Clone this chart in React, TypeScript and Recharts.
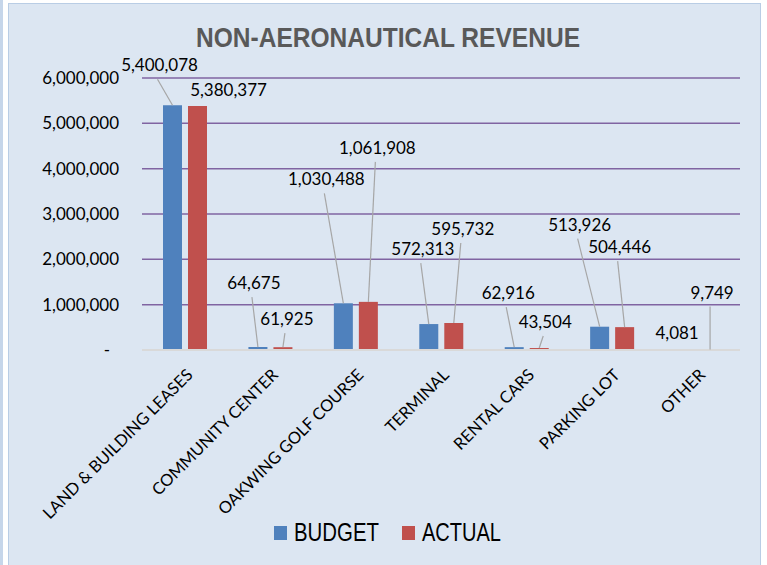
import React from "react";
import { BarChart, Bar, XAxis, YAxis, CartesianGrid, LabelList } from "recharts";

const categories = [
  "LAND & BUILDING LEASES",
  "COMMUNITY CENTER",
  "OAKWING GOLF COURSE",
  "TERMINAL",
  "RENTAL CARS",
  "PARKING LOT",
  "OTHER",
];
const budget = [5400078, 64675, 1030488, 572313, 62916, 513926, 4081];
const actual = [5380377, 61925, 1061908, 595732, 43504, 504446, 9749];
const yTicks = [0, 1000000, 2000000, 3000000, 4000000, 5000000, 6000000];

// label placement relative to bar top-centre (Excel moved labels + leader lines)
const budgetLabelPos = [
  { dx: -13, dy: -40, line: true },
  { dx: -4, dy: -64, line: true },
  { dx: -17, dy: -124, line: true },
  { dx: -6, dy: -75, line: true },
  { dx: -6, dy: -54, line: true },
  { dx: -20, dy: -102, line: true },
  { dx: -8, dy: -17, line: false },
];
const actualLabelPos = [
  { dx: 31, dy: -16, line: false },
  { dx: 4, dy: -28, line: true },
  { dx: 9, dy: -154, line: true },
  { dx: 9, dy: -94, line: true },
  { dx: 6, dy: -26, line: true },
  { dx: -5, dy: -80, line: true },
  { dx: 2, dy: -57, line: true },
];

const data = categories.map((name, i) => ({ name, budget: budget[i], actual: actual[i] }));

const NUM_FONT = "Lato, 'Open Sans', sans-serif";
const fmt = (v: number) => v.toLocaleString("en-US");

function makeLabel(pos: { dx: number; dy: number; line: boolean }[]) {
  return (props: any) => {
    const { x, y, width, value, index } = props;
    const p = pos[index];
    const cx = Number(x) + Number(width) / 2;
    const top = Number(y);
    const lx = cx + p.dx;
    const ly = top + p.dy;
    return (
      <g>
        {p.line && (
          <line x1={lx - 2} y1={ly + 14} x2={cx} y2={top} stroke="#a6a6a6" strokeWidth={1.2} />
        )}
        <text x={lx} y={ly} dy="0.35em" textAnchor="middle" fontSize={17} fontFamily={NUM_FONT} fill="#000">
          {fmt(value)}
        </text>
      </g>
    );
  };
}

function YTick(props: any) {
  const { x, y, payload } = props;
  const v = payload.value as number;
  return (
    <text x={v === 0 ? x - 9 : x} y={y} dy="0.35em" textAnchor="end" fontSize={17} fontFamily={NUM_FONT} fill="#000">
      {v === 0 ? "-" : fmt(v)}
    </text>
  );
}

function XTick(props: any) {
  const { x, y, payload } = props;
  const ax = x + 9;
  const ay = y + 26;
  return (
    <text
      x={ax}
      y={ay}
      textAnchor="end"
      transform={`rotate(-45, ${ax}, ${ay})`}
      fontSize={16.5}
      fontFamily={NUM_FONT}
      fill="#000"
    >
      {payload.value}
    </text>
  );
}

export default function App() {
  return (
    <div style={{ position: "absolute", left: 0, top: 0, width: 767, height: 565, background: "#fff", overflow: "hidden" }}>
      <div style={{ position: "absolute", left: 0, top: 0, width: 3, height: 565, background: "#c6d6ea" }} />
      <div
        style={{
          position: "absolute",
          left: 8,
          top: 3,
          width: 751,
          height: 580,
          background: "#dce6f2",
          border: "1px solid #b9cde5",
        }}
      />
      <svg width={767} height={60} style={{ position: "absolute", left: 0, top: 0 }}>
        <text
          x={388}
          y={47}
          textAnchor="middle"
          fontSize={28}
          fontWeight="bold"
          fontFamily="'Liberation Sans', Arial, sans-serif"
          fill="#595959"
          textLength={384}
          lengthAdjust="spacingAndGlyphs"
        >
          NON-AERONAUTICAL REVENUE
        </text>
      </svg>
      <div style={{ position: "absolute", left: 0, top: 0 }}>
        <BarChart
          width={767}
          height={565}
          data={data}
          margin={{ top: 78, right: 27, bottom: 155, left: 0 }}
          barGap={6}
          barSize={19}
        >
          <CartesianGrid vertical={false} stroke="#8064a2" strokeWidth={1.5} />
          <XAxis
            dataKey="name"
            height={60}
            interval={0}
            tickLine={false}
            tickSize={0}
            tickMargin={0}
            axisLine={{ stroke: "#d9d9d9", strokeWidth: 2 }}
            tick={<XTick />}
          />
          <YAxis
            width={142}
            domain={[0, 6000000]}
            ticks={yTicks}
            axisLine={false}
            tickLine={false}
            tickSize={0}
            tickMargin={23}
            tick={<YTick />}
          />
          <Bar dataKey="budget" name="BUDGET" fill="#4f81bd" isAnimationActive={false}>
            <LabelList dataKey="budget" content={makeLabel(budgetLabelPos)} />
          </Bar>
          <Bar dataKey="actual" name="ACTUAL" fill="#c0504d" isAnimationActive={false}>
            <LabelList dataKey="actual" content={makeLabel(actualLabelPos)} />
          </Bar>
        </BarChart>
      </div>
      <svg width={767} height={60} style={{ position: "absolute", left: 0, top: 505 }}>
        <rect x={274} y={21} width={13} height={14} fill="#4f81bd" />
        <text x={294} y={36} fontSize={26} fontFamily="'Liberation Sans', Arial, sans-serif" fill="#000" textLength={85} lengthAdjust="spacingAndGlyphs">
          BUDGET
        </text>
        <rect x={402} y={21} width={13} height={14} fill="#c0504d" />
        <text x={422} y={36} fontSize={26} fontFamily="'Liberation Sans', Arial, sans-serif" fill="#000" textLength={79} lengthAdjust="spacingAndGlyphs">
          ACTUAL
        </text>
      </svg>
    </div>
  );
}
